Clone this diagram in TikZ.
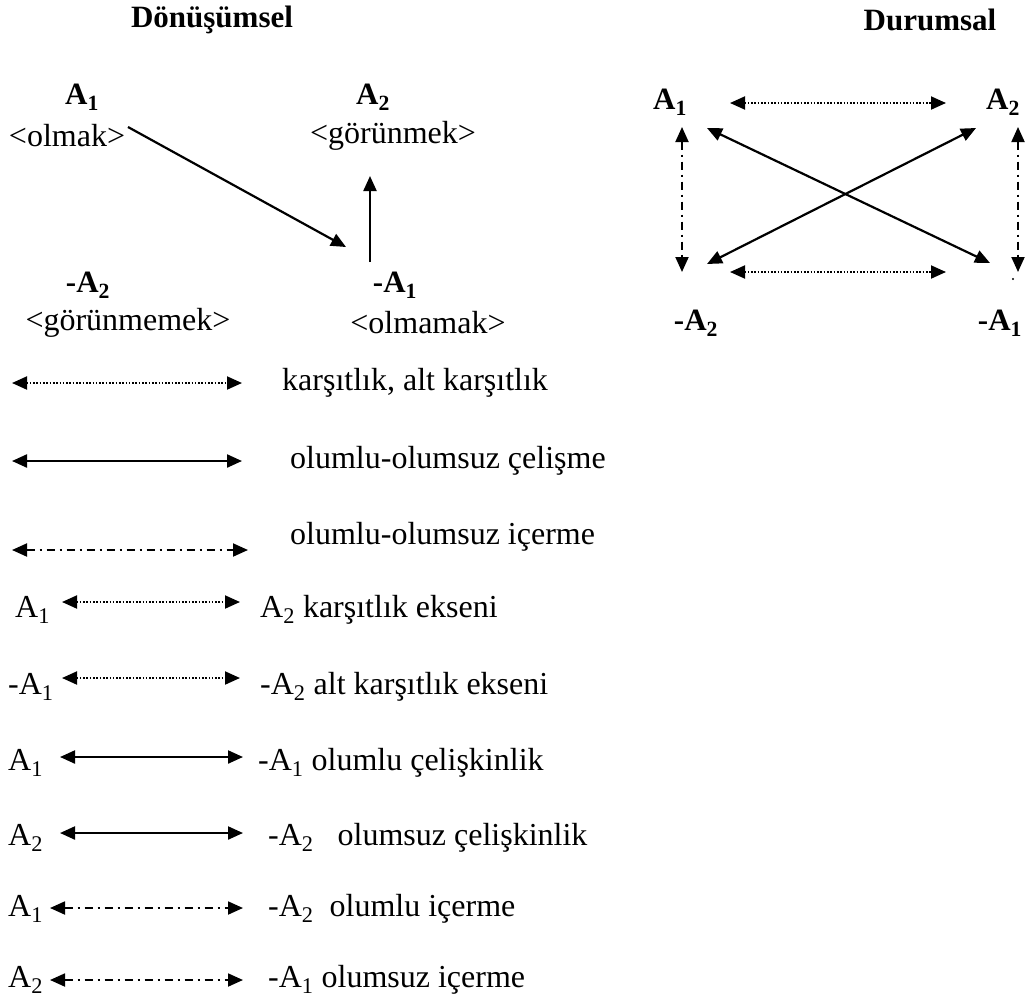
\documentclass[tikz,border=0pt]{standalone}
\usepackage{fontspec}
\setmainfont{Liberation Serif}
\usetikzlibrary{arrows.meta}
\begin{document}
\begin{tikzpicture}[x=1pt,y=-1pt,
  txt/.style={inner sep=0pt,font=\fontsize{32}{38}\selectfont},
  btxt/.style={inner sep=0pt,font=\fontsize{31}{37}\selectfont\bfseries},
  conn/.style={line width=2.2pt,{Triangle[length=15pt,width=13pt]}-{Triangle[length=15pt,width=13pt]}},
  oneway/.style={line width=2.2pt,-{Triangle[length=15pt,width=13pt]}},
  dotline/.style={conn,line width=1.9pt,dash pattern=on 1.6pt off 1.7pt},
  dashdotline/.style={conn,line width=1.9pt,dash pattern=on 8pt off 5pt on 2pt off 5pt},
  solidline/.style={conn}]
\useasboundingbox (0,0) rectangle (1028,997);
% headings
\node[btxt] (h1) at (212,20) {Dönüşümsel};
\node[btxt] (h2) at (930,20) {Durumsal};
% Dönüşümsel
\node[btxt] (dA1) at (82,97) {A\textsubscript{1}};
\node[txt] (olmak) at (67,136) {<olmak>};
\node[btxt] (dA2) at (373,97) {A\textsubscript{2}};
\node[txt] (gorunmek) at (393,136) {<görünmek>};
\node[btxt] (dnA2) at (88,285) {-A\textsubscript{2}};
\node[txt] (gorunmemek) at (128,323) {<görünmemek>};
\node[btxt] (dnA1) at (395,285) {-A\textsubscript{1}};
\node[txt] (olmamak) at (428,323) {<olmamak>};
\coordinate (p1) at (128,127);
\coordinate (p2) at (346,247);
\coordinate (p3) at (370,262);
\coordinate (p4) at (370,176);
\draw[oneway] (p1) -- (p2);
\draw[oneway] (p3) -- (p4);
% Durumsal
\node[btxt] (rA1) at (670,102) {A\textsubscript{1}};
\node[btxt] (rA2) at (1003,102) {A\textsubscript{2}};
\node[btxt] (rnA2) at (696,323) {-A\textsubscript{2}};
\node[btxt] (rnA1) at (1000,323) {-A\textsubscript{1}};
\coordinate (q1) at (730,103);
\coordinate (q2) at (946,103);
\coordinate (q3) at (730,272);
\coordinate (q4) at (946,272);
\coordinate (q5) at (682,127);
\coordinate (q6) at (682,272);
\coordinate (q7) at (1018,127);
\coordinate (q8) at (1018,272);
\coordinate (q9) at (707,128);
\coordinate (q10) at (990,263);
\coordinate (q11) at (976,128);
\coordinate (q12) at (707,264);
\draw[dotline] (q1) -- (q2);
\draw[dotline] (q3) -- (q4);
\draw[dashdotline] (q5) -- (q6);
\draw[dashdotline] (q7) -- (q8);
\draw[solidline] (q9) -- (q10);
\draw[solidline] (q11) -- (q12);
\fill (1013,279) circle (1.2);
% legend
\coordinate (l1a) at (12,383); \coordinate (l1b) at (242,383);
\draw[dotline] (l1a) -- (l1b);
\node[txt,anchor=west] (t1) at (282,383) {karşıtlık, alt karşıtlık};
\coordinate (l2a) at (12,461); \coordinate (l2b) at (242,461);
\draw[solidline] (l2a) -- (l2b);
\node[txt,anchor=west] (t2) at (290,461) {olumlu-olumsuz çelişme};
\coordinate (l3a) at (12,550); \coordinate (l3b) at (248,550);
\draw[dashdotline] (l3a) -- (l3b);
\node[txt,anchor=west] (t3) at (290,537) {olumlu-olumsuz içerme};
% rows with labels
\node[txt,anchor=west] (r4l) at (15,610) {A\textsubscript{1}};
\node[txt,anchor=west] (r4r) at (260,610) {A\textsubscript{2} karşıtlık ekseni};
\coordinate (l4a) at (62,602); \coordinate (l4b) at (240,602);
\draw[dotline] (l4a) -- (l4b);
\node[txt,anchor=west] (r5l) at (8,687) {-A\textsubscript{1}};
\node[txt,anchor=west] (r5r) at (260,687) {-A\textsubscript{2} alt karşıtlık ekseni};
\coordinate (l5a) at (62,678); \coordinate (l5b) at (240,678);
\draw[dotline] (l5a) -- (l5b);
\node[txt,anchor=west] (r6l) at (8,763) {A\textsubscript{1}};
\node[txt,anchor=west] (r6r) at (258,763) {-A\textsubscript{1} olumlu çelişkinlik};
\coordinate (l6a) at (60,757); \coordinate (l6b) at (243,757);
\draw[solidline] (l6a) -- (l6b);
\node[txt,anchor=west] (r7l) at (8,838) {A\textsubscript{2}};
\node[txt,anchor=west] (r7r) at (268,838) {-A\textsubscript{2}\ \ \ olumsuz çelişkinlik};
\coordinate (l7a) at (60,833); \coordinate (l7b) at (243,833);
\draw[solidline] (l7a) -- (l7b);
\node[txt,anchor=west] (r8l) at (8,909) {A\textsubscript{1}};
\node[txt,anchor=west] (r8r) at (268,909) {-A\textsubscript{2}\ \ olumlu içerme};
\coordinate (l8a) at (50,908); \coordinate (l8b) at (243,908);
\draw[dashdotline] (l8a) -- (l8b);
\node[txt,anchor=west] (r9l) at (8,980) {A\textsubscript{2}};
\node[txt,anchor=west] (r9r) at (268,980) {-A\textsubscript{1} olumsuz içerme};
\coordinate (l9a) at (50,980); \coordinate (l9b) at (243,980);
\draw[dashdotline] (l9a) -- (l9b);
\end{tikzpicture}
\end{document}
